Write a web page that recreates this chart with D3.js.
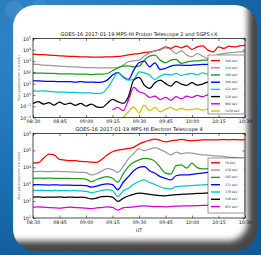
<!DOCTYPE html>
<html><head><meta charset="utf-8">
<script src="https://cdn.jsdelivr.net/npm/d3@7"></script>
<style>html,body{margin:0;padding:0;background:#1766a6;overflow:hidden}svg{display:block}</style>
</head><body><svg id="c" width="261" height="255"></svg>
<script>
// ---- data (minutes after 08:30 UT; values are log10 flux) ----
const minutes = [0,3,6,9,12,15,18,21,24,27,30,33,36,39,42,45,48,51,54,57,60,63,66,69,72,75,78,81,84,87,90,93,96,99,102,105,108,111,114,117,120];
const timeTickMinutes = [0,15,30,45,60,75,90,105,120];
const timeTickLabels = ["08:30","08:45","09:00","09:15","09:30","09:45","10:00","10:15","10:30"];

const protonExpTicks = [-2,-1,0,1,2,3,4,5];
const electronExpTicks = [1,2,3,4,5,6];

const protonLabels = ["100 keV","120 keV","180 keV","260 keV","422 keV","528 keV","860 keV","1430 keV"];
const p100 = [3.61,3.58,3.58,3.52,3.50,3.47,3.44,3.41,3.41,3.38,3.38, 3.35,3.35,3.35,3.38,3.38,3.41,3.47,3.55,3.61,3.67, 3.76,3.79,3.91,4.03,4.26,4.12,4.32,4.17,4.35,4.03, 4.26,4.35,3.97,3.82,4.26,4.12,4.32,4.26,4.35,4.38];
const p120 = [2.73,2.70,2.64,2.61,2.58,2.55,2.52,2.49,2.49,2.46,2.43, 2.43,2.40,2.40,2.40,2.40,2.43,2.64,2.94,3.02,3.08, 3.44,3.73,3.88,3.97,4.17,4.03,3.67,3.91,3.53,3.38, 3.67,3.44,3.23,3.38,3.58,3.67,3.73,3.76,3.82,3.82];
const p180 = [1.96,1.93,1.93,1.90,1.90,1.87,1.87,1.87,1.84,1.84,1.84, 1.81,1.84,1.84,1.90,2.14,2.40,2.55,2.58,2.49,2.55, 3.08,3.44,3.52,3.08,2.85,3.08,3.14,2.79,2.91,2.99, 3.02,3.08,3.08,3.14,3.17,3.20,3.23,3.26,3.29,3.32];
const p260 = [1.25,1.25,1.22,1.19,1.19,1.17,1.17,1.17,1.14,1.17,1.14, 1.14,1.11,1.14,1.31,1.76,1.99,1.61,1.37,2.20,2.85, 2.99,2.49,2.85,2.25,2.35,2.55,2.64,2.64,2.61,2.64, 2.67,2.70,2.70,2.73,2.73,2.76,2.76,2.79,2.79,2.79];
const p422 = [0.37,0.34,0.37,0.31,0.28,0.25,0.25,0.22,0.22,0.19,0.19, 0.16,0.13,0.16,0.58,1.31,1.96,1.55,1.31,1.37,2.05, 1.96,1.76,1.37,1.67,1.84,1.76,1.90,1.73,1.84,1.90, 1.78,1.96,1.84,1.96,1.90,2.02,1.96,2.05,2.02,2.08];
const p528 = [-0.75,-0.60,-0.81,-0.69,-0.90,-0.63,-0.84,-0.72,-0.93,-0.75,-0.99, -0.81,-1.05,-1.11,-0.75,-0.40,-0.60,-0.75,-0.16,1.31,1.55, 0.87,0.58,1.08,1.31,1.02,0.78,1.17,0.96,0.84,1.08, 0.87,0.96,1.14,1.02,0.93,1.08,1.02,1.14,1.08,1.17];
const p860 = [null,null,null,null,null,null,null,null,null,null,null,null,null,null,null, -1.34,-1.11,-1.40,-0.46,0.66,0.28,0.13,-0.22,-0.10,-0.40,-0.22,-0.46,-0.16,-0.34,-0.10,-0.22,-0.04,-0.16,0.01,-0.10,-0.01,0.04,-0.07,0.01,-0.01,0.04];
const p1430 = [null,null,null,null,null,null,null,null,null,null,null,null,null,null,null,null,null, -1.99,-1.49,-1.05,-1.58,-0.90,-1.40,-1.11,-1.49,-1.28,-1.11,-1.34,-1.19,-1.34,-1.28,-1.22,-1.34,-1.25,-1.19,-1.25,-1.16,-1.22,-1.13,-1.19,-1.16];

const electronLabels = ["79 keV","118 keV","183 keV","272 keV","378 keV","548 keV","855 keV"];
const e79  = [4.24,4.27,4.53,4.78,4.73,4.47,4.43,4.39,4.39,4.35,4.33, 4.30,4.29,4.47,4.73,4.92,5.02,5.06,5.12,5.18,5.37, 5.50,5.60,5.67,5.60,5.50,5.57,5.60,5.65,5.60,5.57, 5.60,5.62,5.63,5.62,5.63,5.64,5.63,5.64,5.63,5.64];
const e118 = [3.75,3.76,3.75,3.74,3.76,3.75,3.74,3.73,3.72,3.70,3.68, 3.55,3.62,3.78,3.92,3.86,3.70,4.05,4.50,4.82,5.10, 4.98,5.08,5.16,5.05,4.90,4.73,4.90,4.80,4.86,4.84, 4.78,4.74,4.72,4.68,4.66,4.64,4.60,4.58,4.56,4.54];
const e183 = [3.35,3.36,3.35,3.36,3.35,3.34,3.35,3.34,3.33,3.33,3.30, 3.15,3.28,3.38,3.45,3.35,3.12,3.60,4.04,4.30,4.43, 4.53,4.50,4.35,4.00,3.65,3.60,4.10,4.14,3.95,4.24, 3.98,3.90,3.92,3.94,3.95,3.94,3.95,3.94,3.95,3.94];
const e272 = [2.96,2.97,2.96,2.95,2.96,2.95,2.94,2.94,2.93,2.93,2.92, 2.82,2.88,2.98,3.02,2.98,2.67,3.10,3.45,3.80,4.00, 4.04,3.80,3.65,3.45,3.35,3.25,3.50,3.55,3.55,3.58, 3.62,3.66,3.70,3.74,3.78,3.80,3.82,3.84,3.84,3.85];
const e378 = [2.63,2.64,2.63,2.62,2.63,2.62,2.62,2.61,2.62,2.60,2.58, 2.50,2.56,2.64,2.68,2.62,2.27,2.60,2.76,3.00,3.16, 3.25,3.10,2.98,2.85,2.75,2.72,2.85,2.88,2.90,2.92, 2.94,2.96,2.98,3.00,3.02,3.03,3.04,3.05,3.06,3.06];
const e548 = [2.24,2.25,2.22,2.24,2.23,2.25,2.22,2.24,2.22,2.23,2.20, 2.13,2.18,2.26,2.28,2.24,1.98,2.16,2.30,2.40,2.47, 2.44,2.40,2.36,2.33,2.31,2.36,2.38,2.40,2.42,2.43, 2.45,2.46,2.48,2.49,2.51,2.52,2.53,2.54,2.55,2.56];
const e855 = [1.65,1.66,1.64,1.62,1.60,1.58,1.62,1.64,1.62,1.60,1.58, 1.55,1.60,1.62,1.66,1.63,1.47,1.60,1.63,1.66,1.70, 1.72,1.70,1.68,1.67,1.66,1.68,1.70,1.71,1.72,1.72, 1.73,1.74,1.74,1.75,1.76,1.76,1.77,1.77,1.78,1.78];

// ---- drawing ----
const FONT = "DejaVu Sans, Liberation Sans, sans-serif";
const protonColors = ["#ff0000","#9a9a9a","#1f9a1f","#0000ff","#00c8c8","#000000","#d000d0","#c8c800"];
const electronColors = ["#ff0000","#9a9a9a","#1f9a1f","#0000ff","#00c8c8","#000000","#d000d0"];

const svg = d3.select("#c");
const defs = svg.append("defs");

// background
const bg = defs.append("radialGradient").attr("id","bgGrad").attr("cx","20%").attr("cy","15%").attr("r","95%");
bg.append("stop").attr("offset","0%").attr("stop-color","#3389cc");
bg.append("stop").attr("offset","60%").attr("stop-color","#1c70b2");
bg.append("stop").attr("offset","100%").attr("stop-color","#105a98");
svg.append("rect").attr("width",261).attr("height",255).attr("fill","url(#bgGrad)");
svg.append("circle").attr("cx",14).attr("cy",10).attr("r",9).attr("fill","#ffffff").attr("opacity",0.08);
svg.append("circle").attr("cx",40).attr("cy",4).attr("r",6).attr("fill","#ffffff").attr("opacity",0.06);

// card
const blur = defs.append("filter").attr("id","cardBlur").attr("x","-10%").attr("y","-10%").attr("width","120%").attr("height","120%");
blur.append("feGaussianBlur").attr("stdDeviation",3.2);
defs.append("clipPath").attr("id","cardClip").append("rect")
  .attr("x",13).attr("y",5).attr("width",244).attr("height",246).attr("rx",22);
const card = svg.append("g").attr("clip-path","url(#cardClip)");
card.append("rect").attr("x",13).attr("y",5).attr("width",244).attr("height",246).attr("fill","#474747");
card.append("rect").attr("x",-10).attr("y",-15).attr("width",258).attr("height",256).attr("rx",20)
  .attr("fill","#ffffff").attr("filter","url(#cardBlur)");

function supLabel(sel, e) {
  sel.text(null);
  sel.append("tspan").text("10");
  sel.append("tspan").attr("dy","-0.55em").attr("font-size","70%").text(e < 0 ? "\u2212" + Math.abs(e) : String(e));
}

function panel(cfg) {
  const x = d3.scaleLinear().domain([0,120]).range([cfg.left, cfg.right]);
  const y = d3.scaleLog().domain([Math.pow(10,cfg.exps[0]), Math.pow(10,cfg.exps[cfg.exps.length-1])]).range([cfg.bottom, cfg.top]);
  const g = svg.append("g");
  const clipId = "clip" + cfg.id;
  defs.append("clipPath").attr("id",clipId).append("rect")
    .attr("x",cfg.left).attr("y",cfg.top).attr("width",cfg.right-cfg.left).attr("height",cfg.bottom-cfg.top);

  const line = d3.line().defined(d => d[1] != null)
    .x(d => x(d[0])).y(d => y(Math.pow(10, d[1]))).curve(d3.curveMonotoneX);
  const lg = g.append("g").attr("clip-path","url(#"+clipId+")");
  cfg.series.forEach((s,i) => {
    lg.append("path").datum(minutes.map((m,j) => [m, s[j]]))
      .attr("d", line).attr("fill","none").attr("stroke", cfg.colors[i])
      .attr("stroke-width",1.25).attr("stroke-linejoin","round");
  });

  const tickVals = cfg.exps.map(e => Math.pow(10,e));
  const ax = g.append("g").attr("transform","translate(0,"+cfg.bottom+")")
    .call(d3.axisBottom(x).tickValues(timeTickMinutes).tickFormat((d,i)=>timeTickLabels[i]).tickSizeInner(-2.5).tickSizeOuter(0).tickPadding(2.5));
  const axT = g.append("g").attr("transform","translate(0,"+cfg.top+")")
    .call(d3.axisTop(x).tickValues(timeTickMinutes).tickFormat("").tickSizeInner(-2.5).tickSizeOuter(0));
  const ay = g.append("g").attr("transform","translate("+cfg.left+",0)")
    .call(d3.axisLeft(y).tickValues(tickVals).tickSizeInner(-2.5).tickSizeOuter(0).tickPadding(2));
  const ayR = g.append("g").attr("transform","translate("+cfg.right+",0)")
    .call(d3.axisRight(y).tickValues(tickVals).tickFormat("").tickSizeInner(-2.5).tickSizeOuter(0));
  [ax,axT,ay,ayR].forEach(a => {
    a.select(".domain").remove();
    a.selectAll("line").attr("stroke","#000").attr("stroke-width",0.5);
    a.selectAll("text").attr("font-family",FONT).attr("font-size",4.7).attr("fill","#111");
  });
  ay.selectAll(".tick text").each(function(d){ supLabel(d3.select(this), Math.round(Math.log10(d))); });

  g.append("rect").attr("x",cfg.left).attr("y",cfg.top).attr("width",cfg.right-cfg.left).attr("height",cfg.bottom-cfg.top)
    .attr("fill","none").attr("stroke","#000").attr("stroke-width",0.7);

  g.append("text").attr("x",(cfg.left+cfg.right)/2).attr("y",cfg.top-2.2).attr("text-anchor","middle")
    .attr("font-family",FONT).attr("font-size",5.1).attr("fill","#111").text(cfg.title);
  g.append("text").attr("transform","translate(20,"+((cfg.top+cfg.bottom)/2)+") rotate(-90)")
    .attr("text-anchor","middle").attr("font-family",FONT).attr("font-size",3.2).attr("fill","#444")
    .text(cfg.ylabel);

  const L = cfg.legend;
  const leg = g.append("g");
  leg.append("rect").attr("x",L.x).attr("y",L.y).attr("width",L.w).attr("height",L.h)
    .attr("fill","#fff").attr("stroke","#333").attr("stroke-width",0.5);
  cfg.labels.forEach((lab,i) => {
    const yy = L.y + L.pad + i*L.step;
    leg.append("line").attr("x1",L.x+3).attr("x2",L.x+12).attr("y1",yy).attr("y2",yy)
      .attr("stroke",cfg.colors[i]).attr("stroke-width",1.4);
    leg.append("text").attr("x",L.x+17).attr("y",yy).attr("dy","0.35em")
      .attr("font-family",FONT).attr("font-size",3.1).attr("fill","#333").text(lab);
  });
  return {x,y};
}

panel({id:"p", left:33, right:245, top:38.5, bottom:117.5, exps:protonExpTicks,
  series:[p100,p120,p180,p260,p422,p528,p860,p1430], colors:protonColors, labels:protonLabels,
  title:"GOES-16 2017-01-19 MPS-HI Proton Telescope 2 and SGPS+X",
  ylabel:"flux [protons/(cm\u00b2 s sr keV)]",
  legend:{x:208,y:55,w:36.5,h:59,pad:5.6,step:7.2}});

panel({id:"e", left:33, right:245, top:133.5, bottom:218, exps:electronExpTicks,
  series:[e79,e118,e183,e272,e378,e548,e855], colors:electronColors, labels:electronLabels,
  title:"GOES-16 2017-01-19 MPS-HI Electron Telescope 4",
  ylabel:"flux [electrons/(cm\u00b2 s sr keV)]",
  legend:{x:208,y:158,w:36.5,h:55,pad:4.8,step:7.3}});

svg.append("text").attr("x",139).attr("y",232).attr("text-anchor","middle")
  .attr("font-family",FONT).attr("font-size",4.8).attr("fill","#111").text("UT");
</script>
</body></html>
